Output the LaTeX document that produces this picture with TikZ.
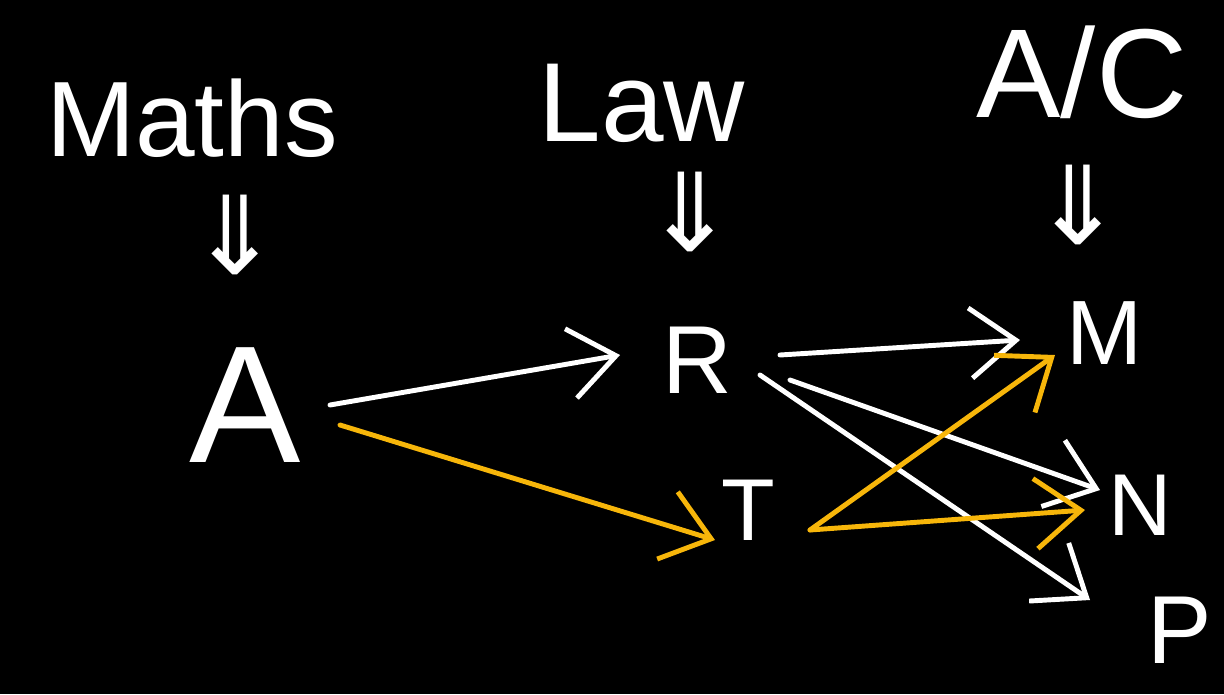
\documentclass[tikz,border=0pt]{standalone}
\usepackage{fontspec}
\setmainfont{Liberation Sans}
\newfontfamily\symfont{DejaVu Sans}
\usetikzlibrary{arrows.meta,calc}
\definecolor{penyellow}{RGB}{247,182,10}
\tikzset{
  hand/.style={text=white, inner sep=2pt},
  big/.style={hand, font=\fontsize{#1}{#1}\selectfont},
  dblarrow/.style={text=white, inner sep=0pt, font=\symfont\fontsize{62}{62}\selectfont},
  warr/.style={draw=white, line width=2.8pt, line cap=round,
    -{Straight Barb[length=26pt,width=40pt,line width=2.8pt]}},
  yarr/.style={draw=penyellow, line width=2.8pt, line cap=round,
    -{Straight Barb[length=26pt,width=40pt,line width=2.8pt]}}
}
\begin{document}
\begin{tikzpicture}[x=0.02cm,y=-0.02cm]
\fill[black] (0,0) rectangle (1224,694);
\useasboundingbox (0,0) rectangle (1224,694);
% headings
\node[big=61] (maths) at (192,118) {Maths};
\node[big=64] (law) at (642,103) {Law};
\node[big=72] (ac) at (1082,72) {A/C};
% implication arrows
\node[dblarrow] (d1) at (235,235) {⇓};
\node[dblarrow] (d2) at (690,212) {⇓};
\node[dblarrow] (d3) at (1078,205) {⇓};
% nodes
\node[big=95] (A) at (245,405) {A};
\node[big=55] (R) at (697,360) {R};
\node[big=50] (T) at (748,510) {T};
\node[big=52] (M) at (1105,333) {M};
\node[big=50] (N) at (1140,505) {N};
\node[big=55] (P) at (1180,630) {P};
% connectors
\draw[warr] ($(A)+(85,0)$) -- ($(R)+(-77,-5)$);
\draw[yarr] ($(A)+(95,20)$) -- ($(T)+(-33,30)$);
\draw[warr] ($(R)+(83,-5)$) -- ($(M)+(-85,7)$);
\draw[warr] ($(R)+(93,20)$) -- ($(N)+(-40,-15)$);
\draw[warr] ($(R)+(63,15)$) -- ($(P)+(-90,-30)$);
\draw[yarr] ($(T)+(62,20)$) -- ($(M)+(-50,22)$);
\draw[yarr] ($(T)+(62,20)$) -- ($(N)+(-55,5)$);
\end{tikzpicture}
\end{document}
